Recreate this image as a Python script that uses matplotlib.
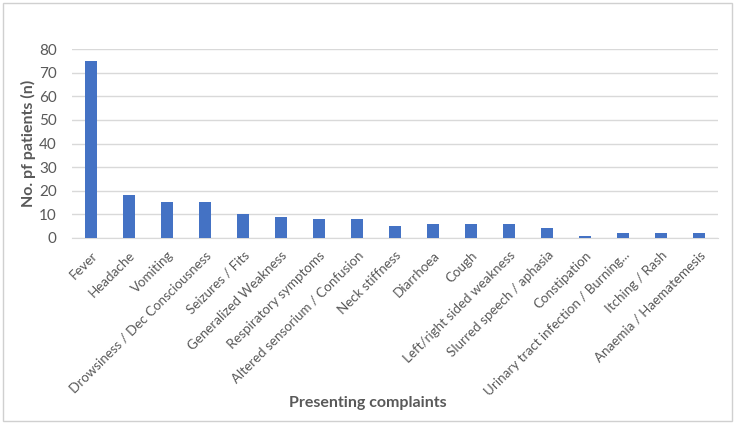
import matplotlib
matplotlib.use("Agg")
import matplotlib.pyplot as plt
from matplotlib.patches import Rectangle

categories = ["Fever", "Headache", "Vomiting", "Drowsiness / Dec Consciousness",
              "Seizures / Fits", "Generalized Weakness", "Respiratory symptoms",
              "Altered sensorium / Confusion", "Neck stiffness", "Diarrhoea", "Cough",
              "Left/right sided weakness", "Slurred speech / aphasia", "Constipation",
              "Urinary tract infection / Burning...", "Itching / Rash", "Anaemia / Haematemesis"]
values = [75, 18, 15, 15, 10, 9, 8, 8, 5, 6, 6, 6, 4, 1, 2, 2, 2]
yticks = [0, 10, 20, 30, 40, 50, 60, 70, 80]

plt.rcParams['font.family'] = ['Lato', 'DejaVu Sans']
txt = '#595959'

fig = plt.figure(figsize=(7.35, 4.24), dpi=100)
fig.patches.append(Rectangle((0.004, 0.007), 0.992, 0.986, transform=fig.transFigure,
                             fill=False, edgecolor='#d0d0d0', lw=1))
ax = fig.add_axes([0.098, 0.439, 0.879, 0.445])
x = list(range(len(categories)))
ax.bar(x, values, width=0.32, color='#4472C4', zorder=3)
ax.set_xlim(-0.5, len(categories) - 0.5)
ax.set_ylim(0, 80)
ax.set_yticks(yticks)
ax.set_yticklabels([str(v) for v in yticks], color=txt, fontsize=11)
ax.set_xticks(x)
ax.set_xticklabels(categories, rotation=45, ha='right', va='top', rotation_mode='anchor',
                   color=txt, fontsize=9.6)
ax.grid(axis='y', color='#d9d9d9', lw=1, zorder=0)
for s in ['top', 'right', 'left']:
    ax.spines[s].set_visible(False)
ax.spines['bottom'].set_color('#d9d9d9')
ax.tick_params(axis='y', length=0, pad=11)
ax.tick_params(axis='x', length=0, pad=8)
ax.set_ylabel("No. pf patients (n)", fontsize=11.5, fontweight='bold', color=txt, labelpad=2)
fig.text(0.5, 0.05, "Presenting complaints", ha='center', va='center',
         fontsize=11.5, fontweight='bold', color=txt)
fig.savefig("out.png", dpi=100)
